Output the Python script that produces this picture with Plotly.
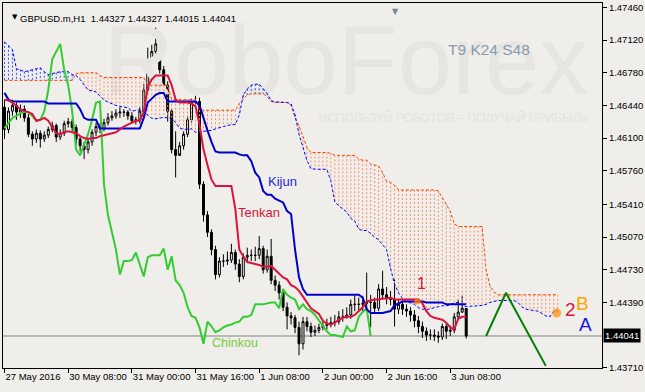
import plotly.graph_objects as go

# ---------------- data (GBPUSD H1) ----------------
bar_index = list(range(117))

opens = [1.4642, 1.4619, 1.4638, 1.4644, 1.4637, 1.4640, 1.4631, 1.4614, 1.4609, 1.4615,
         1.4609, 1.4613, 1.4619, 1.4623, 1.4611, 1.4615, 1.4625, 1.4627, 1.4621, 1.4609,
         1.4602, 1.4598, 1.4606, 1.4616, 1.4622, 1.4620, 1.4626, 1.4631, 1.4633, 1.4636,
         1.4637, 1.4637, 1.4633, 1.4628, 1.4629, 1.4638, 1.4660, 1.4692, 1.4700, 1.4708,
         1.4681, 1.4665, 1.4638, 1.4598, 1.4592, 1.4602, 1.4614, 1.4629, 1.4647, 1.4648,
         1.4562, 1.4530, 1.4512, 1.4494, 1.4468, 1.4482, 1.4482, 1.4483, 1.4491, 1.4479,
         1.4466, 1.4486, 1.4488, 1.4488, 1.4488, 1.4495, 1.4473, 1.4487, 1.4462, 1.4457,
         1.4449, 1.4434, 1.4425, 1.4423, 1.4413, 1.4396, 1.4419, 1.4414, 1.4408, 1.4410,
         1.4413, 1.4415, 1.4416, 1.4418, 1.4419, 1.4424, 1.4424, 1.4426, 1.4437, 1.4437,
         1.4437, 1.4438, 1.4439, 1.4439, 1.4433, 1.4453, 1.4447, 1.4444, 1.4442, 1.4432,
         1.4437, 1.4432, 1.4430, 1.4426, 1.4420, 1.4414, 1.4409, 1.4405, 1.4405, 1.4404,
         1.4403, 1.4414, 1.4409, 1.4410, 1.4424, 1.4429, 1.44327]

highs = [1.4650, 1.4642, 1.4650, 1.4647, 1.4645, 1.4644, 1.4635, 1.4617, 1.4619, 1.4618,
         1.4617, 1.4622, 1.4627, 1.4625, 1.4619, 1.4628, 1.4631, 1.4630, 1.4624, 1.4612,
         1.4606, 1.4610, 1.4619, 1.4626, 1.4625, 1.4630, 1.4636, 1.4638, 1.4640, 1.4642,
         1.4640, 1.4639, 1.4637, 1.4632, 1.4642, 1.4666, 1.4704, 1.4707, 1.4725, 1.4712,
         1.4685, 1.4669, 1.4640, 1.4617, 1.4606, 1.4617, 1.4633, 1.4651, 1.4654, 1.4652,
         1.4565, 1.4534, 1.4515, 1.4498, 1.4486, 1.4489, 1.4492, 1.4500, 1.4494, 1.4484,
         1.4490, 1.4496, 1.4494, 1.4497, 1.4508, 1.4498, 1.4494, 1.4505, 1.4467, 1.4461,
         1.4453, 1.4439, 1.4429, 1.4426, 1.4419, 1.4424, 1.4424, 1.4418, 1.4415, 1.4417,
         1.4419, 1.4422, 1.4424, 1.4426, 1.4430, 1.4432, 1.4434, 1.4442, 1.4446, 1.4444,
         1.4446, 1.4470, 1.4447, 1.4444, 1.4458, 1.4472, 1.4455, 1.4451, 1.4463, 1.4442,
         1.4441, 1.4437, 1.4434, 1.4431, 1.4425, 1.4419, 1.4413, 1.4411, 1.4411, 1.4409,
         1.4417, 1.4418, 1.4415, 1.4428, 1.4442, 1.4446, 1.44327]

lows = [1.4609, 1.4615, 1.4633, 1.4629, 1.4631, 1.4627, 1.4611, 1.4602, 1.4605, 1.4600,
        1.4606, 1.4610, 1.4616, 1.4606, 1.4608, 1.4612, 1.4621, 1.4617, 1.4603, 1.4596,
        1.4588, 1.4594, 1.4602, 1.4612, 1.4615, 1.4617, 1.4623, 1.4628, 1.4630, 1.4631,
        1.4632, 1.4629, 1.4625, 1.4624, 1.4625, 1.4633, 1.4658, 1.4688, 1.4696, 1.4677,
        1.4660, 1.4627, 1.4594, 1.4569, 1.4594, 1.4598, 1.4611, 1.4626, 1.4642, 1.4557,
        1.4523, 1.4507, 1.4488, 1.4463, 1.4465, 1.4476, 1.4478, 1.4480, 1.4473, 1.4460,
        1.4463, 1.4482, 1.4482, 1.4482, 1.4484, 1.4469, 1.4470, 1.4458, 1.4451, 1.4442,
        1.4430, 1.4411, 1.4416, 1.4407, 1.4384, 1.4390, 1.4409, 1.4403, 1.4404, 1.4407,
        1.4410, 1.4411, 1.4413, 1.4414, 1.4416, 1.4419, 1.4422, 1.4422, 1.4430, 1.4431,
        1.4430, 1.4432, 1.4413, 1.4428, 1.4430, 1.4442, 1.4437, 1.4436, 1.4414, 1.4427,
        1.4426, 1.4424, 1.4419, 1.4413, 1.4407, 1.4402, 1.4399, 1.4400, 1.4399, 1.4397,
        1.4400, 1.4401, 1.4404, 1.4407, 1.4421, 1.4428, 1.44015]

closes = [1.4619, 1.4638, 1.4644, 1.4637, 1.4640, 1.4631, 1.4614, 1.4609, 1.4615, 1.4609,
          1.4613, 1.4619, 1.4623, 1.4611, 1.4615, 1.4625, 1.4627, 1.4621, 1.4609, 1.4602,
          1.4598, 1.4606, 1.4616, 1.4622, 1.4620, 1.4626, 1.4631, 1.4633, 1.4636, 1.4637,
          1.4637, 1.4633, 1.4628, 1.4629, 1.4638, 1.4660, 1.4692, 1.4700, 1.4708, 1.4681,
          1.4665, 1.4638, 1.4598, 1.4592, 1.4602, 1.4614, 1.4629, 1.4647, 1.4648, 1.4562,
          1.4530, 1.4512, 1.4494, 1.4468, 1.4482, 1.4482, 1.4483, 1.4491, 1.4479, 1.4466,
          1.4486, 1.4488, 1.4488, 1.4488, 1.4495, 1.4473, 1.4487, 1.4462, 1.4457, 1.4449,
          1.4434, 1.4425, 1.4423, 1.4413, 1.4396, 1.4419, 1.4414, 1.4408, 1.4410, 1.4413,
          1.4415, 1.4416, 1.4418, 1.4419, 1.4424, 1.4424, 1.4426, 1.4437, 1.4437, 1.4437,
          1.4438, 1.4439, 1.4439, 1.4433, 1.4453, 1.4447, 1.4444, 1.4442, 1.4432, 1.4437,
          1.4432, 1.4430, 1.4426, 1.4420, 1.4414, 1.4409, 1.4405, 1.4405, 1.4404, 1.4403,
          1.4414, 1.4409, 1.4410, 1.4424, 1.4429, 1.4433, 1.44041]

tenkan = [1.4650, 1.4649, 1.4647, 1.4643, 1.4640, 1.4638, 1.4637, 1.4635, 1.4628, 1.4629,
          1.4631, 1.4628, 1.4621, 1.4615, 1.4614, 1.4616, 1.4617, 1.4616, 1.4615, 1.4612,
          1.4610, 1.4609, 1.4610, 1.4610, 1.4612, 1.4613, 1.4614, 1.4615, 1.4616, 1.4619,
          1.4622, 1.4624, 1.4626, 1.4628, 1.4628, 1.4637, 1.4663, 1.4671, 1.4675, 1.4675,
          1.4675, 1.4675, 1.4665, 1.4650, 1.4647, 1.4647, 1.4647, 1.4646, 1.4643, 1.4624,
          1.4598, 1.4582, 1.4567, 1.4560, 1.4560, 1.4560, 1.4560, 1.4560, 1.4536, 1.4494,
          1.4487, 1.4481, 1.4480, 1.4479, 1.4478, 1.4476, 1.4476, 1.4477, 1.4473, 1.4469,
          1.4465, 1.4463, 1.4457, 1.4455, 1.4451, 1.4445, 1.4439, 1.4433, 1.4430, 1.4427,
          1.4420, 1.4417, 1.4416, 1.4418, 1.4421, 1.4423, 1.4424, 1.4424, 1.4426, 1.4430,
          1.4434, 1.4440, 1.4441, 1.4442, 1.4442, 1.4443, 1.4443, 1.4444, 1.4442, 1.4442,
          1.4442, 1.4442, 1.4442, 1.4442, 1.4442, 1.4438, 1.4430, 1.4425, 1.4423, 1.4422,
          1.4421, 1.4418, 1.4413, 1.4411, 1.4422, 1.4424, 1.4424]

kijun = [1.4657, 1.4650, 1.4648, 1.4648, 1.4648, 1.4648, 1.4648, 1.4648, 1.4648, 1.4648,
         1.4648, 1.4646, 1.4646, 1.4646, 1.4646, 1.4646, 1.4646, 1.4646, 1.4646, 1.4640,
         1.4631, 1.4629, 1.4629, 1.4629, 1.4620, 1.4620, 1.4620, 1.4620, 1.4620, 1.4620,
         1.4620, 1.4620, 1.4620, 1.4620, 1.4620, 1.4631, 1.4647, 1.4651, 1.4655, 1.4657,
         1.4657, 1.4648, 1.4648, 1.4648, 1.4648, 1.4648, 1.4648, 1.4648, 1.4648, 1.4644,
         1.4630, 1.4618, 1.4606, 1.4596, 1.4595, 1.4595, 1.4595, 1.4595, 1.4595, 1.4593,
         1.4592, 1.4592, 1.4586, 1.4574, 1.4569, 1.4555, 1.4551, 1.4551, 1.4547, 1.4545,
         1.4543, 1.4534, 1.4531, 1.4494, 1.4465, 1.4453, 1.4447, 1.4447, 1.4447, 1.4447,
         1.4447, 1.4447, 1.4447, 1.4447, 1.4447, 1.4447, 1.4447, 1.4447, 1.4447, 1.4447,
         1.4444, 1.4432, 1.4428, 1.4428, 1.4428, 1.4428, 1.4429, 1.4430, 1.4436, 1.4438,
         1.4440, 1.4440, 1.4440, 1.4440, 1.4440, 1.4440, 1.4439, 1.4439, 1.4439, 1.4439,
         1.4439, 1.4437, 1.4437, 1.4437, 1.4437, 1.4437, 1.4437]

# Senkou span A for the first 24 bars (its source bars lie left of the chart)
span_a_head = [1.4710, 1.4706, 1.4702, 1.4682, 1.4681, 1.4679, 1.4680, 1.4681, 1.4682, 1.4683,
               1.4679, 1.4676, 1.4677, 1.4678, 1.4679, 1.4679, 1.4679, 1.4676, 1.4675, 1.4671,
               1.4665, 1.4660, 1.4659, 1.4658]

span_b = [1.4670, 1.4670, 1.4670, 1.4670, 1.4670, 1.4670, 1.4670, 1.4670, 1.4670, 1.4670,
          1.4670, 1.4670, 1.4670, 1.4670, 1.4670, 1.4670, 1.4670, 1.4670, 1.4677, 1.4678,
          1.4678, 1.4678, 1.4678, 1.4678, 1.4675, 1.4673, 1.4673, 1.4673, 1.4673, 1.4673,
          1.4673, 1.4673, 1.4673, 1.4673, 1.4673, 1.4673, 1.4665, 1.4665, 1.4665, 1.4665,
          1.4665, 1.4665, 1.4650, 1.4650, 1.4650, 1.4650, 1.4650, 1.4650, 1.4650, 1.4639,
          1.4639, 1.4639, 1.4639, 1.4639, 1.4639, 1.4639, 1.4639, 1.4639, 1.4639, 1.4646,
          1.4651, 1.4655, 1.4656, 1.4656, 1.4656, 1.4656, 1.4653, 1.4648, 1.4647, 1.4647,
          1.4647, 1.4647, 1.4644, 1.4631, 1.4623, 1.4612, 1.4600, 1.4595, 1.4595, 1.4595,
          1.4595, 1.4595, 1.4594, 1.4592, 1.4592, 1.4592, 1.4592, 1.4592, 1.4592, 1.4588,
          1.4587, 1.4587, 1.4583, 1.4582, 1.4581, 1.4574, 1.4565, 1.4564, 1.4561, 1.4556,
          1.4556, 1.4556, 1.4556, 1.4556, 1.4556, 1.4556, 1.4556, 1.4556, 1.4556, 1.4555,
          1.4548, 1.4542, 1.4534, 1.4521, 1.4518, 1.4518, 1.4518, 1.4518, 1.4518, 1.4518,
          1.4518, 1.4473, 1.4456, 1.4450, 1.4447, 1.4447, 1.4447, 1.4447, 1.4447, 1.4447,
          1.4447, 1.4447, 1.4447, 1.4447, 1.4447, 1.4447, 1.4447, 1.4447, 1.4447, 1.4447]

kijun_period = 24
time_tick_bars = [0, 16, 32, 48, 64, 80, 96, 112]
time_tick_labels = ["27 May 2016", "30 May 08:00", "31 May 00:00", "31 May 16:00",
                    "1 Jun 08:00", "2 Jun 00:00", "2 Jun 16:00", "3 Jun 08:00"]
price_tick_values = [1.4746, 1.4712, 1.4678, 1.4644, 1.4610, 1.4576, 1.4541,
                     1.4507, 1.4473, 1.4439, 1.4371]

forecast_bars = [121, 126, 136]
forecast_prices = [1.44041, 1.4449, 1.4373]
point_bars = [103.7, 138.75]
point_prices = [1.4440, 1.4428]

# ---------------- derived indicator series ----------------
span_a = span_a_head + [(tenkan[j] + kijun[j]) / 2 for j in range(len(span_b) - kijun_period)]
span_x = list(range(len(span_b)))
chinkou_x = bar_index[:len(closes) - kijun_period]
chinkou = closes[kijun_period:]

hatch_o_x, hatch_o_y, hatch_b_x, hatch_b_y = [], [], [], []
for i, (a, b) in enumerate(zip(span_a, span_b)):
    if a > b:
        hatch_b_x += [i, i, None]; hatch_b_y += [a, b, None]
    elif b > a:
        hatch_o_x += [i, i, None]; hatch_o_y += [b, a, None]

BG = "#EFEEEA"
FONT = "Liberation Sans"
DOT = "2px,2px"

fig = go.Figure()
# watermark (drawn first so that it sits behind everything)
fig.add_trace(go.Scatter(x=[146.7], y=[1.4681], mode="text", text=["RoboForex"],
                         textposition="middle left", hoverinfo="skip",
                         textfont=dict(family=FONT, size=98, color="#E6E5E2")))
fig.add_trace(go.Scatter(x=[146.7], y=[1.4630], mode="text",
                         text=["ИСПОЛЬЗУЙ РОБОТОВ – ПОЛУЧАЙ ПРИБЫЛЬ"],
                         textposition="middle left", hoverinfo="skip",
                         textfont=dict(family=FONT, size=12, color="#E4E3E0")))
fig.add_trace(go.Scatter(x=hatch_o_x, y=hatch_o_y, mode="lines",
                         line=dict(color="#F7906A", width=1, dash=DOT), hoverinfo="skip"))
fig.add_trace(go.Scatter(x=hatch_b_x, y=hatch_b_y, mode="lines",
                         line=dict(color="#3355EE", width=1, dash=DOT), hoverinfo="skip"))
fig.add_trace(go.Scatter(x=span_x, y=span_b, mode="lines",
                         line=dict(color="#FF4500", width=1, dash="3px,2px"), hoverinfo="skip"))
fig.add_trace(go.Scatter(x=span_x, y=span_a, mode="lines",
                         line=dict(color="#0000FF", width=1, dash="3px,2px"), hoverinfo="skip"))
fig.add_trace(go.Candlestick(x=bar_index, open=opens, high=highs, low=lows, close=closes,
                             increasing=dict(line=dict(color="black", width=1), fillcolor="white"),
                             decreasing=dict(line=dict(color="black", width=1), fillcolor="black"),
                             whiskerwidth=0, hoverinfo="skip"))
fig.add_trace(go.Scatter(x=chinkou_x, y=chinkou, mode="lines",
                         line=dict(color="#32CD32", width=2), hoverinfo="skip"))
fig.add_trace(go.Scatter(x=bar_index, y=kijun, mode="lines",
                         line=dict(color="#0000CD", width=2), hoverinfo="skip"))
fig.add_trace(go.Scatter(x=bar_index, y=tenkan, mode="lines",
                         line=dict(color="#DC143C", width=2), hoverinfo="skip"))
fig.add_trace(go.Scatter(x=forecast_bars, y=forecast_prices, mode="lines",
                         line=dict(color="#008000", width=2), hoverinfo="skip"))
fig.add_trace(go.Scatter(x=point_bars, y=point_prices, mode="markers",
                         marker=dict(color="#FF8C00", size=[6, 9], line=dict(width=0)),
                         hoverinfo="skip"))

last_close = closes[-1]
fig.add_shape(type="line", xref="paper", x0=0, x1=1, y0=last_close, y1=last_close,
              line=dict(color="#808080", width=1), layer="below")


def fx(px):
    return (px - 2) / 602.0


def fy(py):
    return (368 - py) / 365.0


ann = []
header = "GBPUSD.m,H1  {:.5f} {:.5f} {:.5f} {:.5f}".format(opens[-1], highs[-1], lows[-1], closes[-1])
ann.append(dict(x=fx(17), y=fy(11), xref="paper", yref="paper", xanchor="left",
                text=header, showarrow=False, font=dict(family=FONT, size=9.5, color="black")))
ann.append(dict(x=fx(9.5), y=fy(11), xref="paper", yref="paper", text="▼",
                showarrow=False, font=dict(family="DejaVu Sans", size=7, color="black")))
ann.append(dict(x=fx(396), y=fy(5), xref="paper", yref="paper", text="▼",
                showarrow=False, font=dict(family="DejaVu Sans", size=8, color="#7A8494")))
ann.append(dict(x=fx(534), y=fy(39), xref="paper", yref="paper", text="T9 K24 S48",
                showarrow=False, font=dict(family=FONT, size=15.5, color="#8A9AAF")))
ann.append(dict(x=69.8, y=1.4565, text="Kijun", showarrow=False,
                font=dict(family=FONT, size=13, color="#2828D8")))
ann.append(dict(x=64.05, y=1.4533, text="Tenkan", showarrow=False,
                font=dict(family=FONT, size=13, color="#DC143C")))
ann.append(dict(x=57.9, y=1.4397, text="Chinkou", showarrow=False,
                font=dict(family=FONT, size=12.5, color="#7CCC3C")))
ann.append(dict(x=104.8, y=1.4459, text="1", showarrow=False,
                font=dict(family=FONT, size=16, color="#DC143C")))
ann.append(dict(x=142.2, y=1.4432, text="2", showarrow=False,
                font=dict(family=FONT, size=19, color="#DC143C")))
ann.append(dict(x=145.2, y=1.4438, text="B", showarrow=False,
                font=dict(family=FONT, size=19, color="#FFA500")))
ann.append(dict(x=146.05, y=1.4416, text="A", showarrow=False,
                font=dict(family=FONT, size=19, color="#1414E6")))
ann.append(dict(x=1, y=last_close, xref="paper", xanchor="left", xshift=1,
                text="{:.5f}".format(last_close), showarrow=False, bgcolor="black",
                borderpad=1, font=dict(family=FONT, size=9.5, color="white")))

fig.update_layout(
    width=645, height=392,
    margin=dict(l=2, r=41, t=3, b=24),
    paper_bgcolor=BG, plot_bgcolor=BG,
    showlegend=False,
    annotations=ann,
    font=dict(family=FONT, size=9.5, color="black"),
)
fig.update_xaxes(range=[-0.375, 150.125], tickvals=time_tick_bars, ticktext=time_tick_labels,
                 tickangle=0, ticks="outside", ticklen=4, tickcolor="black",
                 ticklabelposition="outside right",
                 showgrid=False, zeroline=False, showline=True, mirror=True,
                 linecolor="black", linewidth=1, rangeslider=dict(visible=False),
                 tickfont=dict(family=FONT, size=9.5, color="black"))
fig.update_yaxes(range=[1.43708, 1.47505], side="right", tickvals=price_tick_values,
                 ticktext=["{:.5f}".format(v) for v in price_tick_values],
                 ticks="outside", ticklen=4, tickcolor="black",
                 showgrid=False, zeroline=False, showline=True, mirror=True,
                 linecolor="black", linewidth=1,
                 tickfont=dict(family=FONT, size=9.5, color="black"))

fig.write_html("out.html", config={"displayModeBar": False})
